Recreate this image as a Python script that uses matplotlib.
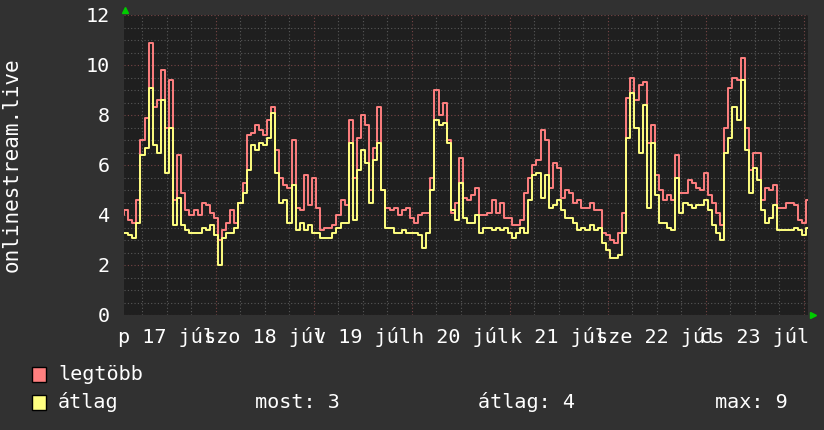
import matplotlib
matplotlib.use("Agg")
import matplotlib.pyplot as plt
import numpy as np
from matplotlib.patches import Rectangle
from matplotlib.ticker import MultipleLocator

# hourly samples, hour 1 .. 169 counted from 17 Jul 00:00
hours = np.arange(1, 170)

legtobb = [
    4.0, 4.2, 3.8, 3.7, 4.6, 7.0, 7.9, 10.9, 8.3, 8.6,
    9.8, 7.5, 9.4, 4.6, 6.4, 4.9, 4.2, 4.0, 4.2, 4.0,
    4.5, 4.4, 4.1, 3.9, 3.0, 3.4, 3.7, 4.2, 3.7, 4.5,
    5.3, 7.2, 7.3, 7.6, 7.4, 7.2, 7.8, 8.3, 6.6, 5.5,
    5.2, 5.1, 7.0, 4.3, 4.2, 5.6, 4.4, 5.5, 4.3, 3.4,
    3.5, 3.5, 3.6, 4.0, 4.6, 4.4, 7.8,
    5.5, 7.1, 8.0, 7.6, 5.0, 6.7, 8.3, 5.0, 4.3, 4.2,
    4.3, 4.0, 4.2, 4.3, 3.9, 3.7, 4.0, 4.1, 4.1, 5.5,
    9.0, 8.0, 8.5, 7.0, 4.1, 4.5, 6.3, 4.7, 4.6, 4.8,
    5.1, 4.0, 4.0, 4.1, 4.6, 4.1, 4.5, 3.9, 3.9, 3.6,
    3.6, 3.8, 4.9, 5.5, 6.0, 6.2, 7.4, 7.0, 5.1, 6.1,
    5.9, 4.7, 5.0, 4.9, 4.5, 4.6,
    4.3, 4.3, 4.5, 4.2, 4.2, 3.3, 3.2, 3.0, 2.9, 3.3,
    4.1, 8.7, 9.5, 8.6, 9.2, 9.3, 6.9, 7.6, 5.6, 5.0,
    4.6, 4.8, 4.6, 6.4, 4.9, 4.9, 5.4, 5.3, 5.1, 5.0,
    5.7, 4.8, 4.5, 4.1, 3.6, 7.5, 9.1, 9.5, 9.4, 10.3,
    7.5, 5.8, 6.5, 6.5, 4.6, 5.1, 5.0, 5.2, 4.3, 4.3,
    4.5, 4.5, 4.4, 3.8, 3.7, 4.6,
]

atlag = [
    3.3, 3.3, 3.2, 3.1, 3.7, 6.4, 6.7, 9.1, 6.8, 6.5,
    8.6, 5.7, 7.5, 3.6, 4.7, 3.6, 3.4, 3.3, 3.3, 3.3,
    3.5, 3.4, 3.6, 3.2, 2.0, 3.1, 3.3, 3.3, 3.5, 4.5,
    4.9, 5.8, 6.8, 6.6, 6.9, 6.8, 7.1, 8.1, 5.7, 4.5,
    4.6, 3.7, 5.2, 3.4, 3.7, 3.4, 3.6, 3.3, 3.3, 3.1,
    3.1, 3.1, 3.3, 3.5, 3.7, 3.7, 6.9,
    3.8, 5.8, 6.6, 6.1, 4.5, 6.2, 6.9, 5.0, 3.5, 3.5,
    3.3, 3.3, 3.4, 3.3, 3.3, 3.3, 3.2, 2.7, 3.3, 5.0,
    7.8, 7.6, 7.7, 6.9, 4.2, 3.8, 5.3, 3.9, 3.7, 3.7,
    4.0, 3.3, 3.5, 3.5, 3.4, 3.5, 3.4, 3.5, 3.3, 3.1,
    3.3, 3.5, 3.3, 4.6, 5.6, 5.7, 4.7, 5.6, 4.3, 4.4,
    4.6, 4.2, 3.9, 3.9, 3.7, 3.4,
    3.5, 3.4, 3.6, 3.4, 3.5, 2.9, 2.6, 2.3, 2.3, 2.4,
    3.3, 7.1, 8.9, 7.5, 6.5, 8.4, 4.3, 6.9, 4.8, 3.7,
    3.7, 3.5, 3.4, 5.5, 4.1, 4.5, 4.4, 4.3, 4.4, 4.4,
    4.6, 4.2, 3.6, 3.3, 3.0, 6.5, 7.1, 8.3, 7.8, 9.4,
    6.6, 4.9, 5.9, 5.4, 4.2, 3.7, 3.9, 4.4, 3.4, 3.4,
    3.4, 3.4, 3.5, 3.4, 3.2, 3.5,
]

day_noon_hours = [12, 36, 60, 84, 108, 132, 156]
day_labels = ["p 17 júl", "szo 18 júl", "v 19 júl", "h 20 júl",
              "k 21 júl", "sze 22 júl", "cs 23 júl"]
y_ticks = [0, 2, 4, 6, 8, 10, 12]

series_names = ["legtöbb", "átlag"]
stats_labels = ["most: 3", "átlag: 4", "max: 9"]

C_BG = "#313131"
C_CANVAS = "#1f1f1f"
C_MAX = "#ff7f7f"
C_AVG = "#ffff80"
C_TEXT = "#ffffff"
FONT = "DejaVu Sans Mono"
FS = 14.5

W, H = 824, 430
fig = plt.figure(figsize=(W / 100, H / 100), dpi=100, facecolor=C_BG)
ax = fig.add_axes([124 / W, 1 - 315 / H, (808 - 124) / W, 300 / H])
ax.set_facecolor(C_CANVAS)

ax.set_xlim(1.47, 169.0)
ax.set_ylim(0, 12)

ax.xaxis.set_major_locator(MultipleLocator(24))
ax.xaxis.set_minor_locator(MultipleLocator(6))
ax.yaxis.set_major_locator(MultipleLocator(2))
ax.yaxis.set_minor_locator(MultipleLocator(0.5))
ax.grid(which="minor", color="#585858", linestyle=(0, (1, 2)), linewidth=0.8)
ax.grid(which="major", color="#774545", linestyle=(0, (1, 2)), linewidth=0.8)
ax.set_axisbelow(True)

ax.plot(hours, legtobb, drawstyle="steps-mid", color=C_MAX, linewidth=1.4, zorder=3)
ax.plot(hours, atlag, drawstyle="steps-mid", color=C_AVG, linewidth=1.4, zorder=4)

ax.set_yticks(y_ticks)
ax.set_yticklabels([str(t) for t in y_ticks], family=FONT, fontsize=FS, color=C_TEXT)
ax.tick_params(axis="y", which="both", length=0, pad=10)
ax.tick_params(axis="x", which="both", length=0, labelbottom=False)
for s in ax.spines.values():
    s.set_visible(False)

for hx, lab in zip(day_noon_hours, day_labels):
    ax.text(hx, -0.47, lab, ha="center", va="top", family=FONT, fontsize=FS,
            color=C_TEXT, clip_on=False)

# y label: rotated text column between x ~3 and ~22 px
fig.text(12 / W, 1 - 165 / H, "onlinestream.live", rotation=90, family=FONT,
         fontsize=15, color=C_TEXT, ha="center", va="center")

# green axis arrows
ax.plot([0.002], [1.017], marker="^", color="#00cc00", markersize=5,
        transform=ax.transAxes, clip_on=False)
ax.plot([1.007], [0.0], marker=">", color="#00cc00", markersize=5,
        transform=ax.transAxes, clip_on=False)

# legend
for row, (name, col) in enumerate(zip(series_names, [C_MAX, C_AVG])):
    yc = 374 + row * 28
    fig.patches.append(Rectangle((32 / W, 1 - (yc + 7.5) / H), 14 / W, 15 / H,
                                 transform=fig.transFigure, facecolor=col,
                                 edgecolor="black", linewidth=1))
    fig.text(58 / W, 1 - yc / H, name, family=FONT, fontsize=FS, color=C_TEXT,
             va="center", ha="left")

for xpos, lab in zip([255, 478, 715], stats_labels):
    fig.text(xpos / W, 1 - 402 / H, lab, family=FONT, fontsize=FS, color=C_TEXT,
             va="center", ha="left")

fig.savefig("out.png", dpi=100, facecolor=C_BG)
